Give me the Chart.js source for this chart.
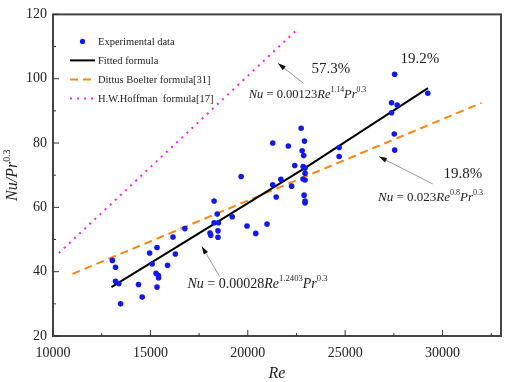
<!DOCTYPE html>
<html lang="en">
<head>
<meta charset="UTF-8">
<title>Nu/Pr^0.3 vs Re</title>
<script src="https://cdn.jsdelivr.net/npm/chart.js"></script>
<style>
  body { margin: 0; background: #fff; }
  #chart { display: block; }
</style>
</head>
<body>
<canvas id="chart" width="505" height="382"></canvas>
<script>
// experimental points
const expRe = [13050, 13210, 13210, 13380, 13470, 14390, 14580, 14960, 15090, 15340,
  15290, 15410, 15420, 15340, 15880, 16160, 16280, 16770, 18060, 18100,
  18270, 18430, 18270, 18490, 18470, 18470, 19200, 19660, 19960, 20410,
  20990, 21280, 22080, 22740, 22910, 22790, 22870, 22410, 22840, 22940,
  22940, 22840, 22940, 21700, 21280, 22250, 21460, 22890, 22940, 22940,
  24690, 24690, 27540, 29240, 27380, 27670, 27380, 27520, 27540];
const expNu = [43.5, 41.4, 37.0, 36.3, 30.0, 36.0, 32.1, 45.8, 42.4, 47.5,
  39.5, 38.8, 38.1, 35.2, 42.0, 50.8, 45.5, 53.4, 52.0, 51.3,
  62.0, 57.9, 55.2, 55.2, 52.7, 50.7, 57.1, 69.6, 54.2, 51.9,
  54.8, 80.0, 79.1, 84.6, 80.6, 77.6, 76.1, 73.0, 72.7, 72.2,
  70.6, 68.8, 68.5, 68.7, 67.0, 66.6, 63.2, 63.8, 62.0, 61.4,
  78.6, 75.8, 101.4, 95.5, 92.5, 91.8, 89.4, 82.8, 77.8];

// correlation lines, end points
const fitRe = [13000, 22950, 29250];
const fitNu = [35.2, 72.3, 97.1];
const dbRe = [11000, 32000];
const dbNu = [39.3, 92.5];
const hwRe = [10300, 22450];
const hwNu = [45.8, 114.8];

const xTicks = [10000, 15000, 20000, 25000, 30000];
const yTicks = [20, 40, 60, 80, 100, 120];
const xMinor = [12500, 17500, 22500, 27500, 32500];
const yMinor = [30, 50, 70, 90, 110];

const seriesNames = ['Experimental data', 'Fitted formula', 'Dittus Boelter formula[31]', 'H.W.Hoffman  formula[17]'];

const SERIF = '"Liberation Serif", "DejaVu Serif", serif';
const TXT = '#222';

function pts(xs, ys) {
  return xs.map((x, i) => ({ x: x, y: ys[i] }));
}

// text with italic parts and superscripts: parts = [[text, 'n'|'i'|'s'], ...]
function richWidth(ctx, parts, size) {
  let w = 0;
  for (const [t, st] of parts) {
    ctx.font = fontFor(st, size);
    w += ctx.measureText(t).width;
  }
  return w;
}
function fontFor(st, size) {
  const fs = st === 's' ? size * 0.62 : size;
  return (st === 'i' ? 'italic ' : '') + fs + 'px ' + SERIF;
}
function drawRich(ctx, x, y, parts, size) {
  let cx = x;
  ctx.textBaseline = 'middle';
  ctx.textAlign = 'left';
  for (const [t, st] of parts) {
    ctx.font = fontFor(st, size);
    ctx.fillText(t, cx, st === 's' ? y - size * 0.36 : y);
    cx += ctx.measureText(t).width;
  }
}

function arrow(ctx, x1, y1, x2, y2) {
  ctx.save();
  ctx.strokeStyle = '#999';
  ctx.lineWidth = 1;
  ctx.beginPath();
  ctx.moveTo(x1, y1);
  ctx.lineTo(x2, y2);
  ctx.stroke();
  const a = Math.atan2(y2 - y1, x2 - x1);
  ctx.fillStyle = '#111';
  ctx.beginPath();
  ctx.moveTo(x2, y2);
  ctx.lineTo(x2 - 8 * Math.cos(a) + 2.5 * Math.sin(a), y2 - 8 * Math.sin(a) - 2.5 * Math.cos(a));
  ctx.lineTo(x2 - 8 * Math.cos(a) - 2.5 * Math.sin(a), y2 - 8 * Math.sin(a) + 2.5 * Math.cos(a));
  ctx.closePath();
  ctx.fill();
  ctx.restore();
}

const extras = {
  id: 'extras',
  afterDraw(chart) {
    const ctx = chart.ctx;
    const a = chart.chartArea;
    const xs = chart.scales.x, ys = chart.scales.y;
    const X = v => xs.getPixelForValue(v);
    const Y = v => ys.getPixelForValue(v);
    ctx.save();

    // frame
    ctx.strokeStyle = '#444';
    ctx.lineWidth = 2;
    ctx.strokeRect(a.left, a.top, a.right - a.left, a.bottom - a.top);

    // inward ticks
    ctx.lineWidth = 1;
    ctx.strokeStyle = '#333';
    ctx.beginPath();
    xTicks.forEach(v => { ctx.moveTo(X(v), a.bottom); ctx.lineTo(X(v), a.bottom - 6); });
    xMinor.forEach(v => { ctx.moveTo(X(v), a.bottom); ctx.lineTo(X(v), a.bottom - 3); });
    yTicks.forEach(v => { ctx.moveTo(a.left, Y(v)); ctx.lineTo(a.left + 6, Y(v)); });
    yMinor.forEach(v => { ctx.moveTo(a.left, Y(v)); ctx.lineTo(a.left + 3, Y(v)); });
    ctx.stroke();

    ctx.fillStyle = TXT;
    // axis titles
    ctx.font = 'italic 16px ' + SERIF;
    ctx.textAlign = 'center';
    ctx.textBaseline = 'middle';
    ctx.fillText('Re', (a.left + a.right) / 2, 374);
    const yt = [['Nu', 'i'], ['/', 'i'], ['Pr', 'i'], ['0.3', 's']];
    ctx.save();
    ctx.translate(13, (a.top + a.bottom) / 2);
    ctx.rotate(-Math.PI / 2);
    drawRich(ctx, -richWidth(ctx, yt, 16) / 2, 0, yt, 16);
    ctx.restore();

    // legend
    const ds = chart.data.datasets;
    const lx = a.left + 17, lw = 25, tx = a.left + 45;
    const rows = [a.top + 27, a.top + 46, a.top + 65, a.top + 84];
    ds.forEach((d, i) => {
      const ry = rows[i];
      if (i === 0) {
        ctx.fillStyle = d.backgroundColor;
        ctx.beginPath();
        ctx.arc(lx + lw / 2, ry, 2.6, 0, Math.PI * 2);
        ctx.fill();
      } else {
        ctx.save();
        ctx.strokeStyle = d.borderColor;
        ctx.lineWidth = d.borderWidth;
        ctx.setLineDash(d.borderDash || []);
        ctx.beginPath();
        ctx.moveTo(lx, ry);
        ctx.lineTo(lx + lw, ry);
        ctx.stroke();
        ctx.restore();
      }
      ctx.fillStyle = TXT;
      ctx.font = '10.5px ' + SERIF;
      ctx.textAlign = 'left';
      ctx.textBaseline = 'middle';
      ctx.fillText(seriesNames[i], tx, ry + 1);
    });

    // annotations
    ctx.fillStyle = TXT;
    ctx.font = '15px ' + SERIF;
    ctx.textAlign = 'left';
    ctx.fillText('57.3%', X(23265), Y(103.0));
    ctx.fillText('19.2%', X(27842), Y(106.2));
    ctx.fillText('19.8%', X(30051), Y(70.5));

    drawRich(ctx, X(20051), Y(95.1),
      [['Nu', 'i'], [' = 0.00123', 'n'], ['Re', 'i'], ['1.14', 's'], ['Pr', 'i'], ['0.3', 's']], 12.5);
    drawRich(ctx, X(26684), Y(63.0),
      [['Nu', 'i'], [' = 0.023', 'n'], ['Re', 'i'], ['0.8', 's'], ['Pr', 'i'], ['0.3', 's']], 13);
    drawRich(ctx, X(16903), Y(36.2),
      [['Nu', 'i'], [' = 0.00028', 'n'], ['Re', 'i'], ['1.2403', 's'], ['Pr', 'i'], ['0.3', 's']], 14);

    arrow(ctx, X(22857), Y(98.6), X(21546), Y(104.8));
    arrow(ctx, X(29490), Y(67.3), X(26735), Y(75.8));
    arrow(ctx, X(18556), Y(38.5), X(17638), Y(47.9));

    ctx.restore();
  }
};

const tickFont = { family: SERIF, size: 14 };

new Chart(document.getElementById('chart'), {
  type: 'scatter',
  data: {
    datasets: [{
      label: seriesNames[0],
      data: pts(expRe, expNu),
      backgroundColor: 'rgb(18,24,240)',
      borderWidth: 0,
      pointRadius: 2.8
    }, {
      type: 'line',
      label: seriesNames[1],
      data: pts(fitRe, fitNu),
      borderColor: '#000',
      borderWidth: 2,
      pointRadius: 0,
      fill: false
    }, {
      type: 'line',
      label: seriesNames[2],
      data: pts(dbRe, dbNu),
      borderColor: 'rgb(255,133,20)',
      borderWidth: 2,
      borderDash: [8, 5],
      pointRadius: 0,
      fill: false
    }, {
      type: 'line',
      label: seriesNames[3],
      data: pts(hwRe, hwNu),
      borderColor: 'rgb(235,40,235)',
      borderWidth: 2,
      borderDash: [2, 5],
      pointRadius: 0,
      fill: false
    }]
  },
  options: {
    responsive: false,
    animation: false,
    layout: { padding: { top: 6, right: 2, left: 0, bottom: 0 } },
    plugins: { legend: { display: false }, tooltip: { enabled: false } },
    scales: {
      x: {
        type: 'linear',
        min: 10000,
        max: 33000,
        afterFit(s) { s.height = 46; },
        afterBuildTicks(s) { s.ticks = xTicks.map(v => ({ value: v })); },
        grid: { display: false, drawTicks: false },
        border: { display: false },
        ticks: { font: tickFont, color: TXT, padding: 9, maxRotation: 0, callback: v => String(v) }
      },
      y: {
        type: 'linear',
        min: 20,
        max: 120,
        afterFit(s) { s.width = 53; },
        afterBuildTicks(s) { s.ticks = yTicks.map(v => ({ value: v })); },
        grid: { display: false, drawTicks: false },
        border: { display: false },
        ticks: { font: tickFont, color: TXT, padding: 6, callback: v => String(v) }
      }
    }
  },
  plugins: [extras]
});
</script>
</body>
</html>
